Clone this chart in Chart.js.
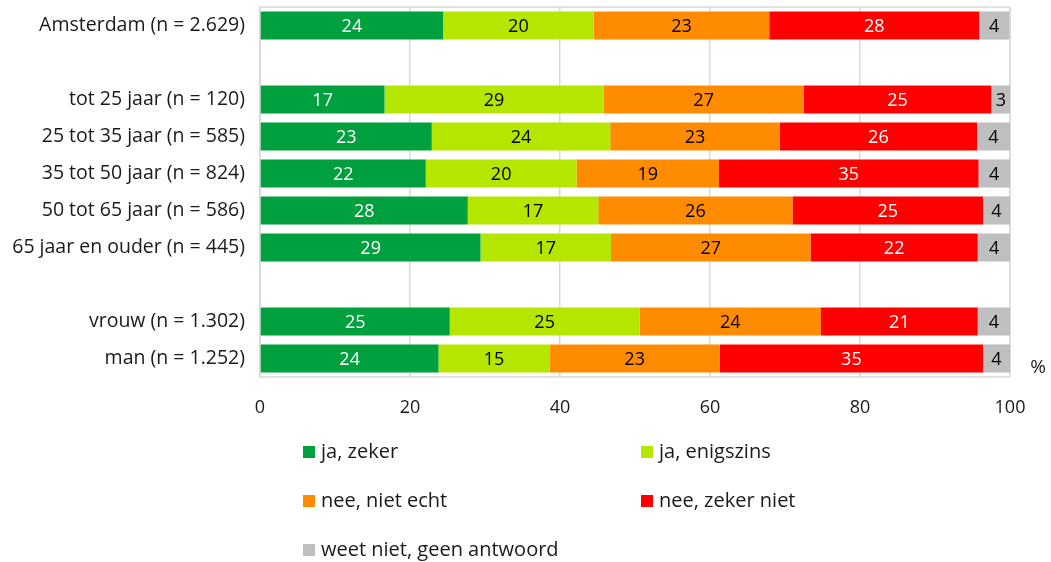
<!DOCTYPE html>
<html>
<head>
<meta charset="utf-8">
<script src="https://cdn.jsdelivr.net/npm/chart.js@4"></script>
<style>
  body { margin: 0; background: #fff; }
  #wrap { position: relative; width: 1051px; height: 562px; }
  #legend { position: absolute; left: 0; top: 0; font-family: "Open Sans", sans-serif; font-size: 20px; color: #1a1a1a; }
  .item { position: absolute; white-space: nowrap; line-height: 24px; }
  .box { display: inline-block; width: 12px; height: 12px; margin-right: 6px; vertical-align: 0px; }
</style>
</head>
<body>
<div id="wrap">
  <canvas id="surveyChart" width="1051" height="562"></canvas>
  <div id="legend"></div>
</div>
<script>
// categories (empty strings are the gaps between groups)
const groups = ['Amsterdam (n = 2.629)', '', 'tot 25 jaar (n = 120)', '25 tot 35 jaar (n = 585)',
  '35 tot 50 jaar (n = 824)', '50 tot 65 jaar (n = 586)', '65 jaar en ouder (n = 445)', '',
  'vrouw (n = 1.302)', 'man (n = 1.252)'];

// percentages per answer
const jaZeker      = [24.4, null, 16.6, 22.9, 22.1, 27.7, 29.4, null, 25.3, 23.8];
const jaEnigszins  = [20.1, null, 29.2, 23.8, 20.1, 17.4, 17.4, null, 25.3, 14.8];
const neeNietEcht  = [23.4, null, 26.7, 22.6, 19.0, 25.9, 26.6, null, 24.2, 22.7];
const neeZekerNiet = [28.0, null, 25.0, 26.3, 34.6, 25.4, 22.3, null, 20.9, 35.1];
const weetNiet     = [4.0, null, 2.6, 4.4, 4.2, 3.6, 4.4, null, 4.3, 3.6];

const answers = ['ja, zeker', 'ja, enigszins', 'nee, niet echt', 'nee, zeker niet', 'weet niet, geen antwoord'];
const colors = ['#00a03e', '#b5e600', '#ff8c00', '#ff0000', '#bfbfbf'];
const labelColors = ['#ffffff', '#000000', '#000000', '#ffffff', '#000000'];
const xTicks = [0, 20, 40, 60, 80, 100];

const series = [jaZeker, jaEnigszins, neeNietEcht, neeZekerNiet, weetNiet];

// value labels inside the bars
const barLabels = {
  id: 'barLabels',
  afterDatasetsDraw(chart) {
    const ctx = chart.ctx;
    ctx.save();
    ctx.font = '18px "Open Sans", sans-serif';
    ctx.textAlign = 'center';
    ctx.textBaseline = 'middle';
    chart.data.datasets.forEach((ds, i) => {
      chart.getDatasetMeta(i).data.forEach((bar, j) => {
        const v = ds.data[j];
        if (v == null) return;
        ctx.fillStyle = labelColors[i];
        ctx.fillText(Math.round(v), (bar.x + bar.base) / 2, bar.y + 1);
      });
    });
    ctx.restore();
  }
};

// grey frame round the plot and the % sign
const frame = {
  id: 'frame',
  beforeDatasetsDraw(chart) {
    const a = chart.chartArea, ctx = chart.ctx;
    ctx.save();
    ctx.strokeStyle = '#d9d9d9';
    ctx.lineWidth = 1.5;
    ctx.strokeRect(a.left, a.top, a.right - a.left, a.bottom - a.top);
    ctx.restore();
  },
  afterDraw(chart) {
    const ctx = chart.ctx;
    ctx.save();
    ctx.font = '19px "Open Sans", sans-serif';
    ctx.fillStyle = '#1a1a1a';
    ctx.textAlign = 'center';
    ctx.textBaseline = 'middle';
    ctx.fillText('%', 1038, 368);
    ctx.restore();
  }
};

const ctx = document.getElementById('surveyChart').getContext('2d');
const surveyChart = new Chart(ctx, {
  type: 'bar',
  data: {
    labels: groups,
    datasets: series.map((d, i) => ({
      label: answers[i],
      data: d,
      backgroundColor: colors[i],
      borderWidth: 0,
      categoryPercentage: 1,
      barPercentage: 0.76
    }))
  },
  options: {
    indexAxis: 'y',
    responsive: false,
    animation: false,
    layout: { padding: { top: 7, right: 41, bottom: 135, left: 0 } },
    scales: {
      x: {
        stacked: true,
        min: 0,
        max: 100,
        afterBuildTicks: s => { s.ticks = xTicks.map(v => ({ value: v })); },
        afterFit: s => { s.height = 50; },
        grid: { color: '#d9d9d9', lineWidth: 1.5, drawTicks: false },
        border: { display: false },
        ticks: { padding: 20, color: '#1a1a1a', font: { family: 'Open Sans', size: 18 } }
      },
      y: {
        stacked: true,
        afterFit: s => { s.width = 260; s.paddingTop = 0; s.paddingBottom = 0; },
        grid: { display: false, drawTicks: false },
        border: { display: false },
        ticks: { padding: 15, color: '#1a1a1a', autoSkip: false, font: { family: 'Open Sans', size: 19.5 } }
      }
    },
    plugins: {
      legend: { display: false },
      tooltip: { enabled: false }
    }
  },
  plugins: [frame, barLabels]
});

// legend in two columns below the chart
const legendPos = [[303, 451], [641, 451], [303, 500], [641, 500], [303, 549]];
const legend = document.getElementById('legend');
answers.forEach((name, i) => {
  const el = document.createElement('div');
  el.className = 'item';
  el.style.left = legendPos[i][0] + 'px';
  el.style.top = (legendPos[i][1] - 12) + 'px';
  el.innerHTML = '<span class="box" style="background:' + colors[i] + '"></span>' + name;
  legend.appendChild(el);
});
</script>
</body>
</html>
